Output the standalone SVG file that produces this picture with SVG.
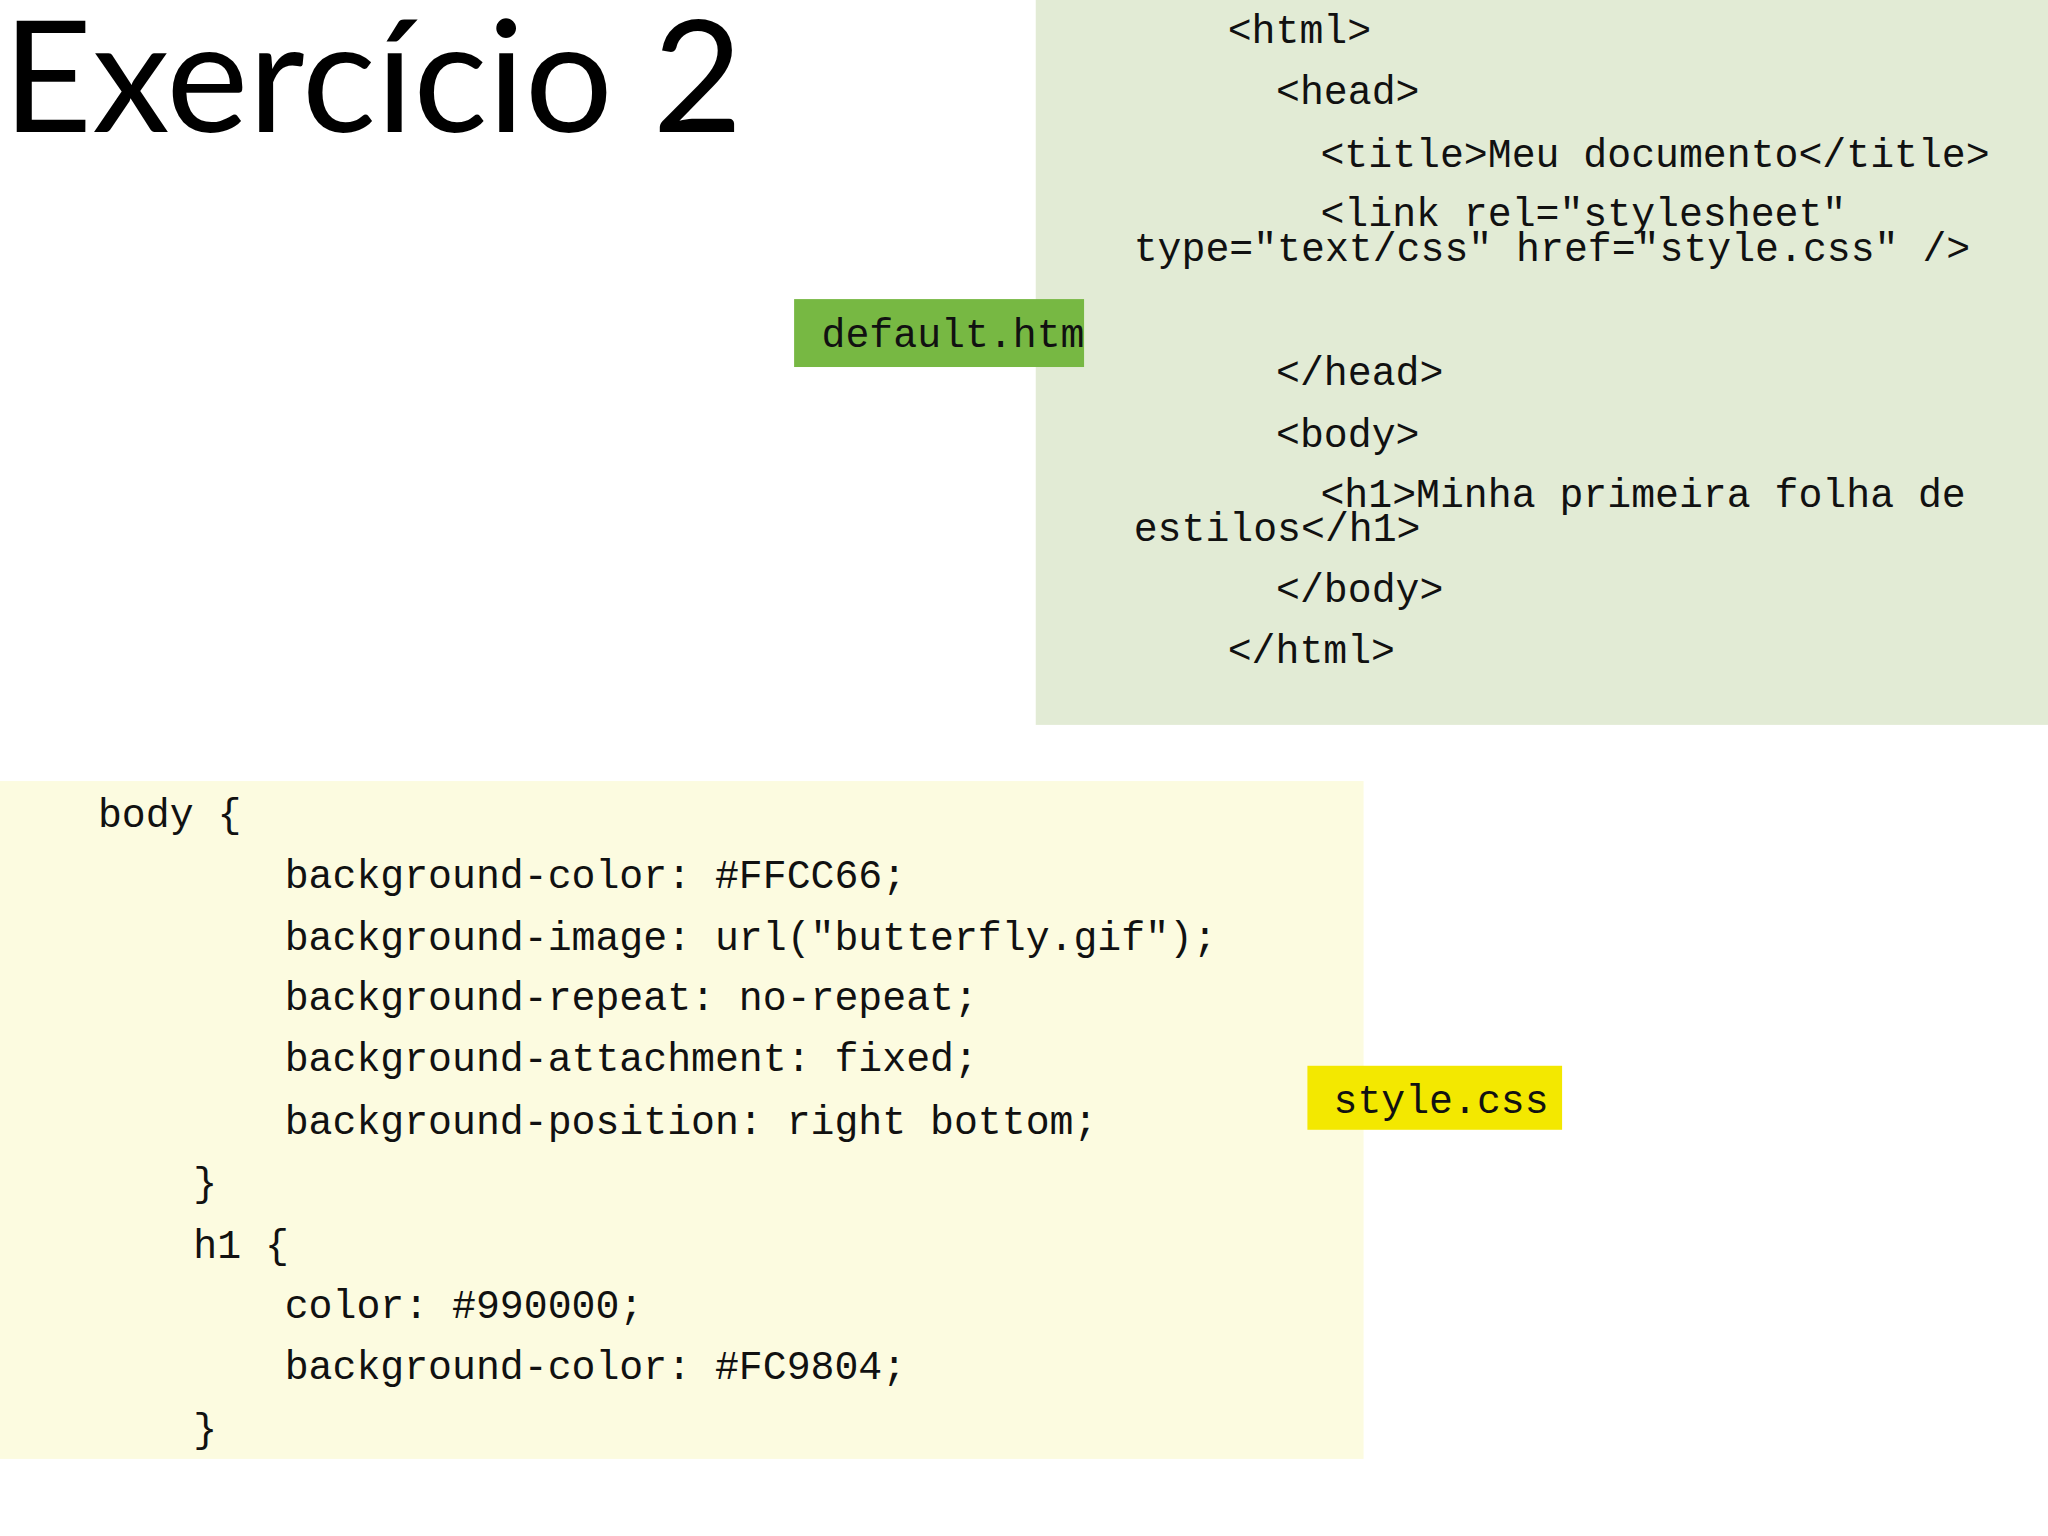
<svg xmlns="http://www.w3.org/2000/svg" width="2048" height="1536" viewBox="0 0 2048 1536">
<style>
.c{font-family:"Liberation Mono","Courier New",monospace;font-size:30.5px;fill:#111}
.t{font-family:Lato,"Open Sans",sans-serif;font-size:119px;fill:#000}
</style>
<rect width="2048" height="1536" fill="#fff"/>
<g transform="scale(1.3061)">
<g id="title"><text class="t" x="2" y="101">Exercício 2</text></g>
<g id="html-box">
<rect x="793" y="0" width="775" height="555" fill="#e2ebd5"/>
<text class="c" x="940" y="33">&lt;html&gt;</text>
<text class="c" x="977" y="80">&lt;head&gt;</text>
<text class="c" x="1011" y="128">&lt;title&gt;Meu documento&lt;/title&gt;</text>
<text class="c" x="1011" y="173">&lt;link rel="stylesheet"</text>
<text class="c" x="868" y="200">type="text/css" href="style.css" /&gt;</text>
<text class="c" x="977" y="295">&lt;/head&gt;</text>
<text class="c" x="977" y="342">&lt;body&gt;</text>
<text class="c" x="1011" y="388">&lt;h1&gt;Minha primeira folha de</text>
<text class="c" x="868" y="414">estilos&lt;/h1&gt;</text>
<text class="c" x="977" y="461">&lt;/body&gt;</text>
<text class="c" x="940" y="508">&lt;/html&gt;</text>
</g>
<g id="default-label">
<rect x="608" y="229" width="222" height="52" fill="#77b843"/>
<text class="c" x="629" y="266">default.htm</text>
</g>
<g id="css-box">
<rect x="0" y="598" width="1044" height="519" fill="#fcfbe0"/>
<text class="c" x="75" y="633">body {</text>
<text class="c" x="218" y="680">background-color: #FFCC66;</text>
<text class="c" x="218" y="727">background-image: url("butterfly.gif");</text>
<text class="c" x="218" y="773">background-repeat: no-repeat;</text>
<text class="c" x="218" y="820">background-attachment: fixed;</text>
<text class="c" x="218" y="868">background-position: right bottom;</text>
<text class="c" x="148" y="916">}</text>
<text class="c" x="148" y="963">h1 {</text>
<text class="c" x="218" y="1009">color: #990000;</text>
<text class="c" x="218" y="1056">background-color: #FC9804;</text>
<text class="c" x="148" y="1104">}</text>
</g>
<g id="style-label">
<rect x="1001" y="816" width="195" height="49" fill="#f3e800"/>
<text class="c" x="1021" y="852">style.css</text>
</g>
<g id="connectors"/>
</g>
</svg>
